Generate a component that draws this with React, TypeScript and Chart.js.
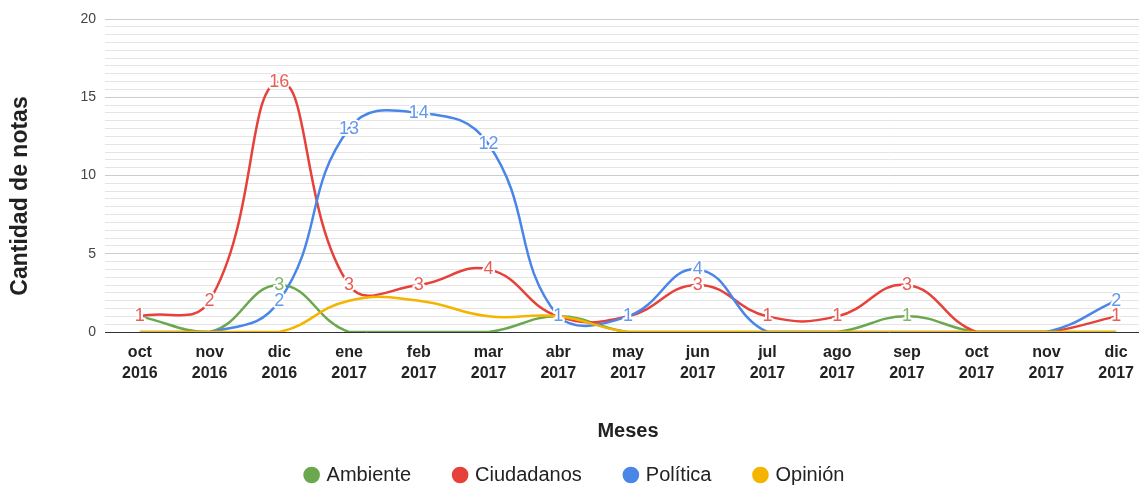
import React, { useEffect, useRef } from 'react';
import { Chart, registerables } from 'chart.js';

Chart.register(...registerables);

const months = ['oct', 'nov', 'dic', 'ene', 'feb', 'mar', 'abr', 'may', 'jun', 'jul', 'ago', 'sep', 'oct', 'nov', 'dic'];
const years = ['2016', '2016', '2016', '2017', '2017', '2017', '2017', '2017', '2017', '2017', '2017', '2017', '2017', '2017', '2017'];
const ambiente = [1, 0, 3, 0, 0, 0, 1, 0, 0, 0, 0, 1, 0, 0, 0];
const ciudadanos = [1, 2, 16, 3, 3, 4, 1, 1, 3, 1, 1, 3, 0, 0, 1];
const politica = [0, 0, 2, 13, 14, 12, 1, 1, 4, 0, 0, 0, 0, 0, 2];
const opinion = [0, 0, 0, 2, 2, 1, 1, 0, 0, 0, 0, 0, 0, 0, 0];
const yTickLabels = [0, 5, 10, 15, 20];
const seriesNames = ['Ambiente', 'Ciudadanos', 'Política', 'Opinión'];
const seriesColors = ['#6aa84f', '#e6413a', '#4a86e8', '#f4b400'];
const yTitle = 'Cantidad de notas';
const xTitle = 'Meses';

const FONT = '"Liberation Sans", Arial, sans-serif';

const pointLabels = {
  id: 'pointLabels',
  afterDatasetsDraw(chart: any) {
    const ctx = chart.ctx;
    [0, 1, 2].forEach((di) => {
      const meta = chart.getDatasetMeta(di);
      const ds = chart.data.datasets[di];
      meta.data.forEach((pt: any, i: number) => {
        const v = ds.data[i];
        if (!v) return;
        ctx.save();
        ctx.font = '18px ' + FONT;
        ctx.textAlign = 'center';
        ctx.textBaseline = 'middle';
        ctx.lineJoin = 'round';
        ctx.lineWidth = 4;
        ctx.strokeStyle = '#ffffff';
        ctx.strokeText(String(v), pt.x, pt.y);
        ctx.fillStyle = ds.borderColor;
        ctx.globalAlpha = 0.85;
        ctx.fillText(String(v), pt.x, pt.y);
        ctx.restore();
      });
    });
  },
};

const yTitlePlugin = {
  id: 'yTitlePlugin',
  afterDraw(chart: any) {
    const ctx = chart.ctx;
    ctx.save();
    ctx.translate(21, 196);
    ctx.rotate(-Math.PI / 2);
    ctx.font = 'bold 23px ' + FONT;
    ctx.fillStyle = '#222';
    ctx.textAlign = 'center';
    ctx.textBaseline = 'middle';
    ctx.fillText(yTitle, 0, 0);
    ctx.restore();
  },
};

export default function App() {
  const ref = useRef<HTMLCanvasElement>(null);
  useEffect(() => {
    document.body.style.margin = '0';
    const data = [ambiente, ciudadanos, politica, opinion];
    const chart = new Chart(ref.current as HTMLCanvasElement, {
      type: 'line',
      data: {
        labels: months.map((m, i) => [m, years[i]]),
        datasets: data.map((d, i) => ({
          label: seriesNames[i],
          data: d,
          borderColor: seriesColors[i],
          backgroundColor: seriesColors[i],
          borderWidth: 2.5,
          pointRadius: 0,
          tension: 0.45,
          order: 4 - i,
        })),
      },
      options: {
        animation: false,
        responsive: false,
        layout: { padding: { top: 19, right: 1, left: 0, bottom: 0 } },
        scales: {
          x: {
            offset: true,
            grid: { display: false, drawTicks: false },
            border: { display: false },
            ticks: {
              autoSkip: false,
              maxRotation: 0,
              padding: 10,
              color: '#222',
              font: { family: FONT, size: 16, weight: 'bold', lineHeight: 1.3 },
            },
            title: {
              display: true,
              text: xTitle,
              color: '#222',
              font: { family: FONT, size: 20, weight: 'bold' },
              padding: { top: 0, bottom: -22 },
            },
            afterFit: (s: any) => {
              s.height = 89;
            },
          },
          y: {
            min: 0,
            max: 20,
            border: { display: false },
            grid: {
              drawTicks: false,
              lineWidth: 1,
              color: (c: any) =>
                c.tick.value === 0 ? '#333333' : c.tick.value % 5 === 0 ? '#cccccc' : '#e4e4e4',
            },
            ticks: {
              stepSize: 0.5,
              autoSkip: false,
              padding: 9,
              color: '#444',
              font: { family: FONT, size: 14 },
              callback: (v: any) => (yTickLabels.includes(v) ? String(v) : ''),
            },
            afterFit: (s: any) => {
              s.width = 105;
            },
          },
        },
        plugins: {
          tooltip: { enabled: false },
          legend: {
            position: 'bottom',
            labels: {
              usePointStyle: true,
              pointStyle: 'circle',
              boxWidth: 10,
              boxHeight: 10,
              padding: 44,
              color: '#222',
              font: { family: FONT, size: 20 },
              sort: (a: any, b: any) => a.datasetIndex - b.datasetIndex,
            },
          },
        },
      },
      plugins: [pointLabels, yTitlePlugin],
    } as any);
    return () => chart.destroy();
  }, []);
  return (
    <div style={{ position: 'absolute', left: 0, top: 0, width: 1139, height: 485, overflow: 'hidden' }}>
      <canvas ref={ref} width={1152} height={495} />
    </div>
  );
}
